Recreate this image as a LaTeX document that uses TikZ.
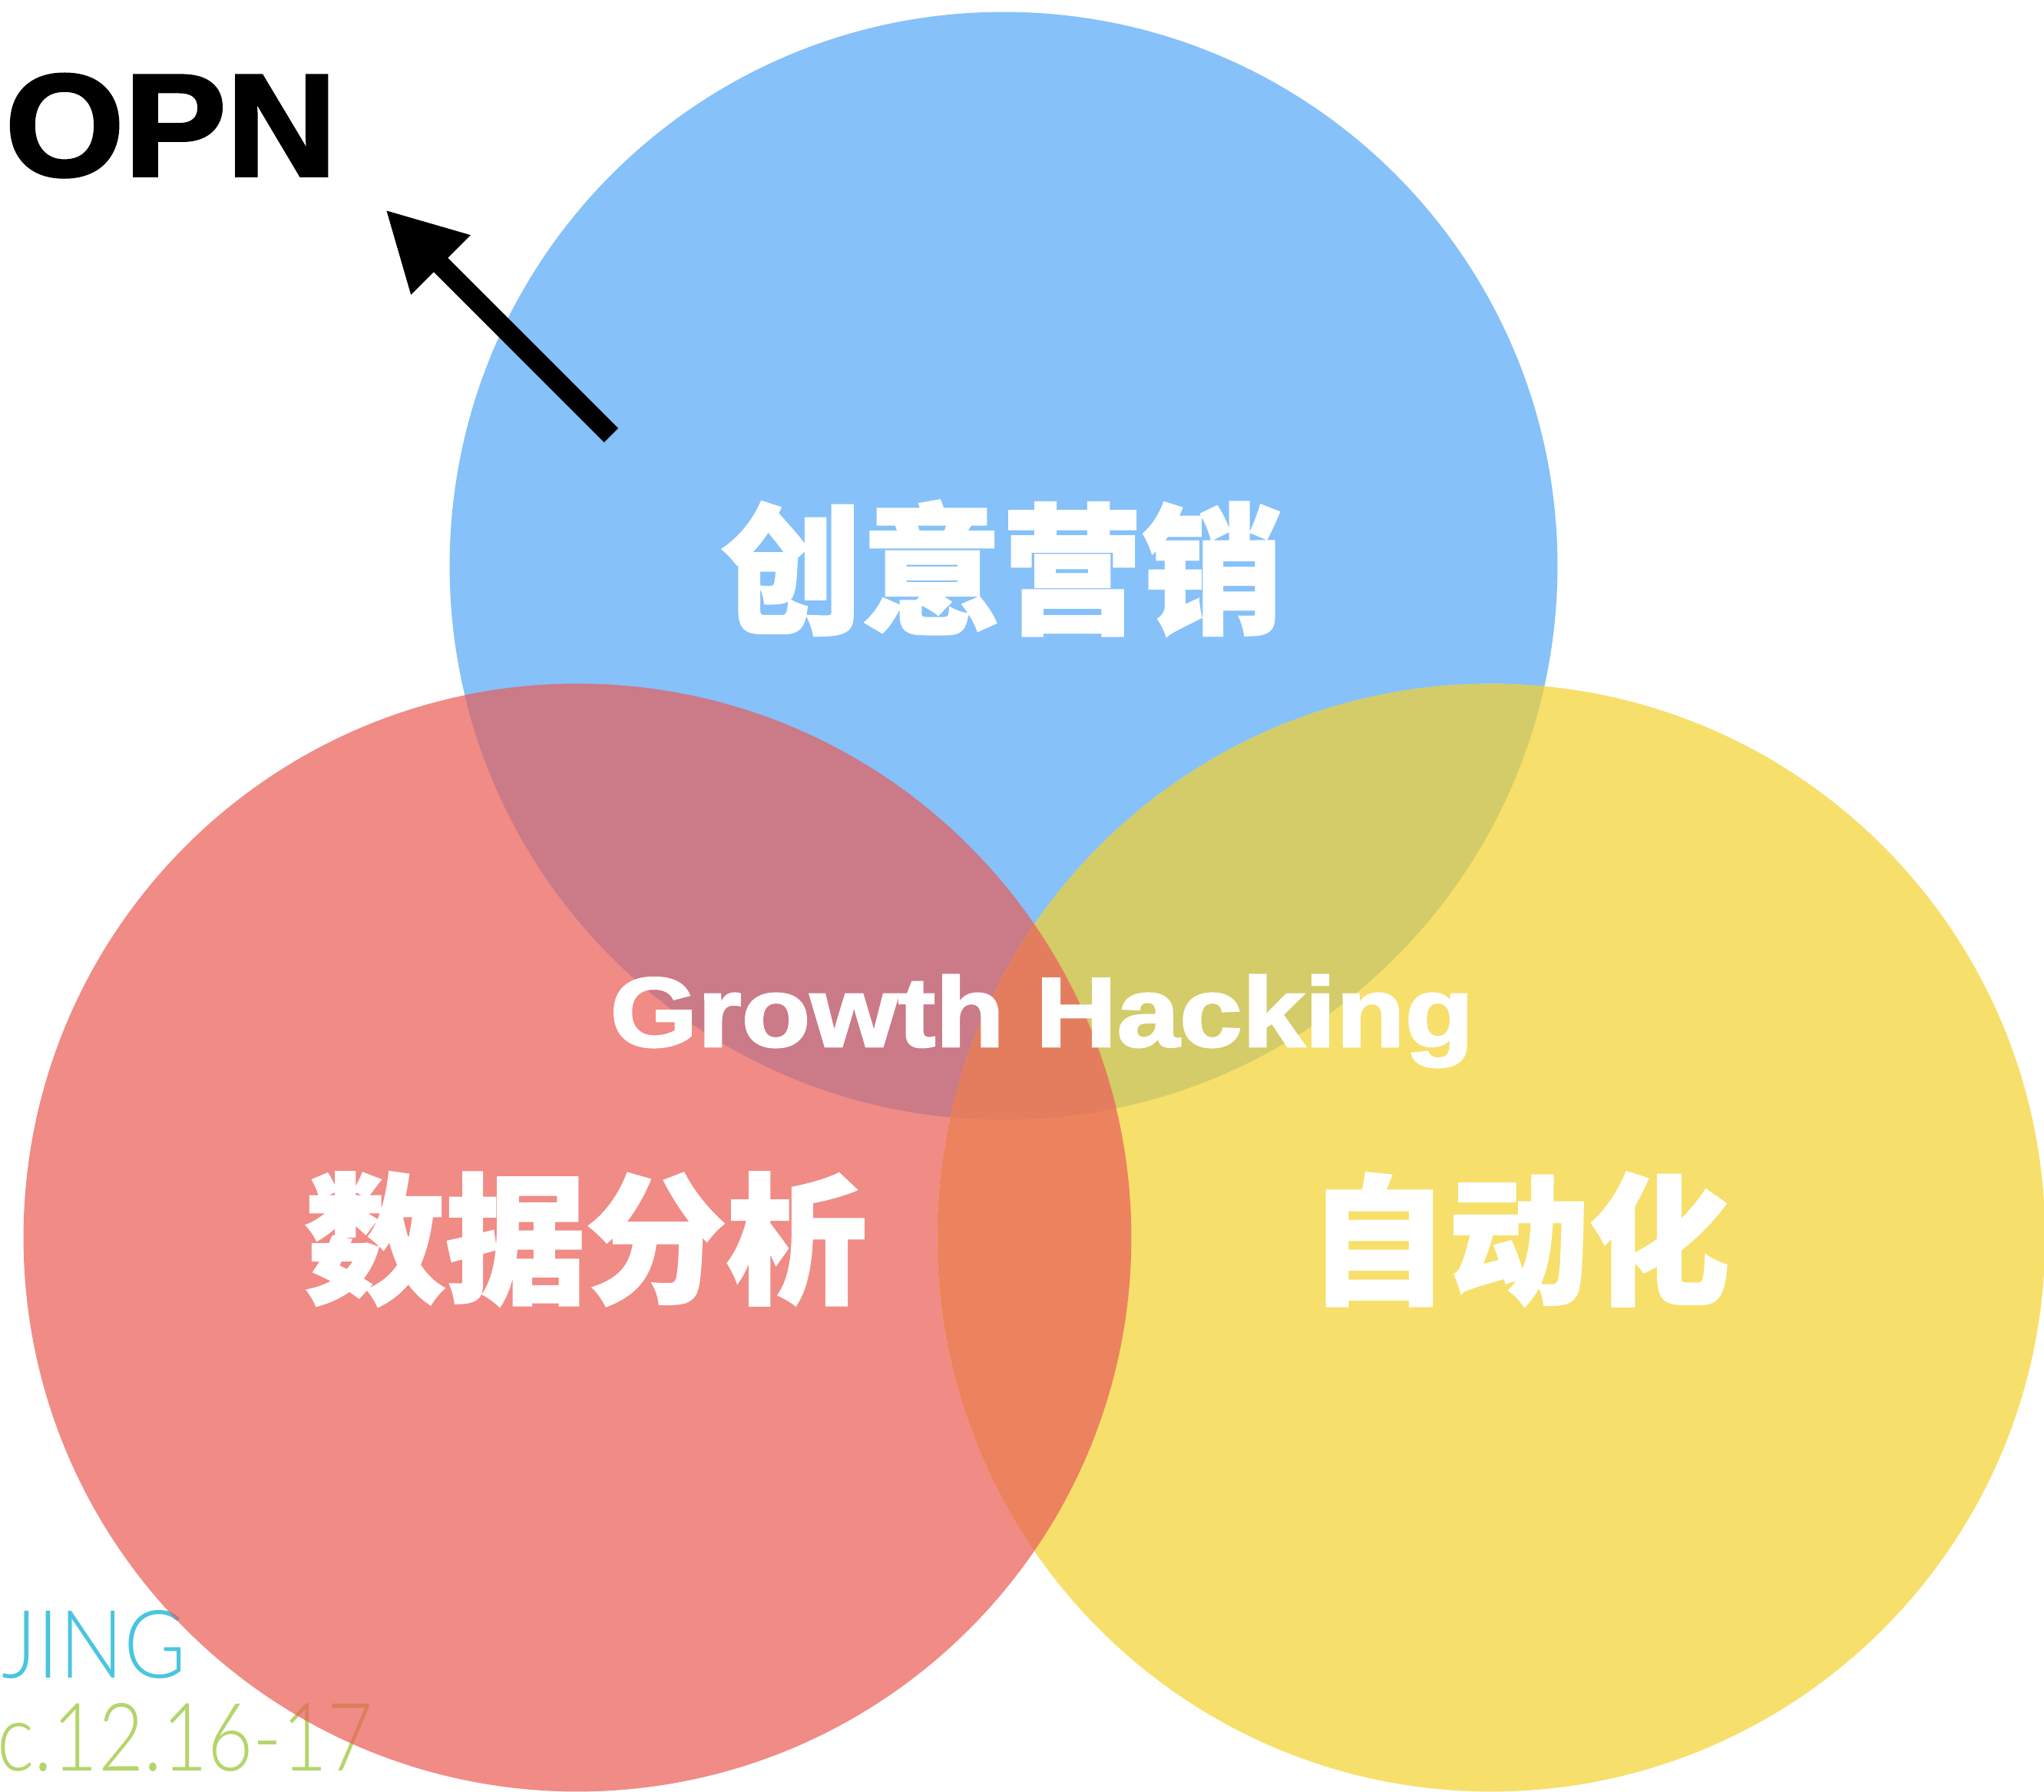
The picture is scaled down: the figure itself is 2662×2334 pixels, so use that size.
\documentclass[tikz,border=0pt]{standalone}
\usepackage{fontspec}
\usepackage{graphicx}
\usetikzlibrary{arrows.meta}
\setmainfont{Liberation Sans}
\newfontfamily\heavyfont{Liberation Sans}[BoldFeatures={FakeBold=2}]
\newfontfamily\cjkfont{Noto Sans CJK SC}[BoldFeatures={FakeBold=1.6}]
\newfontfamily\thinfont{Lato Light}
\definecolor{cblue}{HTML}{86C1F9}
\definecolor{credpure}{RGB}{234,91,84}
\definecolor{cyel}{HTML}{F7DF6B}
\definecolor{cbr}{HTML}{CB7A88}
\definecolor{cby}{HTML}{D3CC69}
\definecolor{cry}{HTML}{ED825E}
\definecolor{call}{HTML}{E47D5D}
\definecolor{jingcyan}{HTML}{48C5E0}
\definecolor{jinggreen}{HTML}{B4D56A}
\tikzset{
  cjklabel/.style={text=white, inner sep=0pt, font=\cjkfont\bfseries\fontsize{52}{52}\selectfont},
  enlabel/.style={text=white, inner sep=0pt, font=\heavyfont\bfseries\fontsize{36.6}{36.6}\selectfont},
  opnlabel/.style={text=black, inner sep=0pt, font=\heavyfont\bfseries\fontsize{54}{54}\selectfont},
  signlabel/.style={inner sep=0pt, font=\thinfont\fontsize{35}{35}\selectfont},
  arrowline/.style={line width=7.4pt, -{Triangle[length=29pt,width=29pt]}},
}
\begin{document}
\begin{tikzpicture}[x=0.01cm,y=-0.01cm]
\def\rad{7.21cm}
\useasboundingbox (0,0) rectangle (2662,2334);
\fill[white] (0,0) rectangle (2662,2334);
% signature (under the translucent red circle)
\node[signlabel, text=jinggreen, anchor=base west] (date) at (-4,2306) {\scalebox{0.83}[1]{c.12.16-17}};
\node[signlabel, text=jingcyan, anchor=base west] (jing) at (2,2185) {\scalebox{0.9}[1]{JING}};
% circles
\coordinate (cb) at (1307,737);
\coordinate (cr) at (752,1612);
\coordinate (cy) at (1942,1612);
\fill[cblue] (cb) circle[radius=\rad];
\fill[credpure, fill opacity=0.7] (cr) circle[radius=\rad];
\fill[cyel] (cy) circle[radius=\rad];
\begin{scope}\clip (cb) circle[radius=\rad]; \fill[cbr] (cr) circle[radius=\rad]; \end{scope}
\begin{scope}\clip (cb) circle[radius=\rad]; \fill[cby] (cy) circle[radius=\rad]; \end{scope}
\begin{scope}\clip (cr) circle[radius=\rad]; \fill[cry] (cy) circle[radius=\rad]; \end{scope}
\begin{scope}\clip (cb) circle[radius=\rad]; \clip (cr) circle[radius=\rad]; \fill[call] (cy) circle[radius=\rad]; \end{scope}
% labels
\node[cjklabel] (blue) at (1305,740) {创意营销};
\node[cjklabel] (red) at (763,1614) {数据分析};
\node[cjklabel] (yellow) at (1978,1614) {自动化};
\node[enlabel, anchor=base] (gh) at (1357,1363) {\scalebox{1.14}[1]{Growth Hacking}};
% OPN and arrow
\node[opnlabel, anchor=base west] (opn) at (6,229) {\scalebox{1.05}[1]{OPN}};
\coordinate (arrowstart) at (796,567);
\coordinate (arrowtip) at (502,273);
\draw[arrowline] (arrowstart) -- (arrowtip);
\end{tikzpicture}
\end{document}
